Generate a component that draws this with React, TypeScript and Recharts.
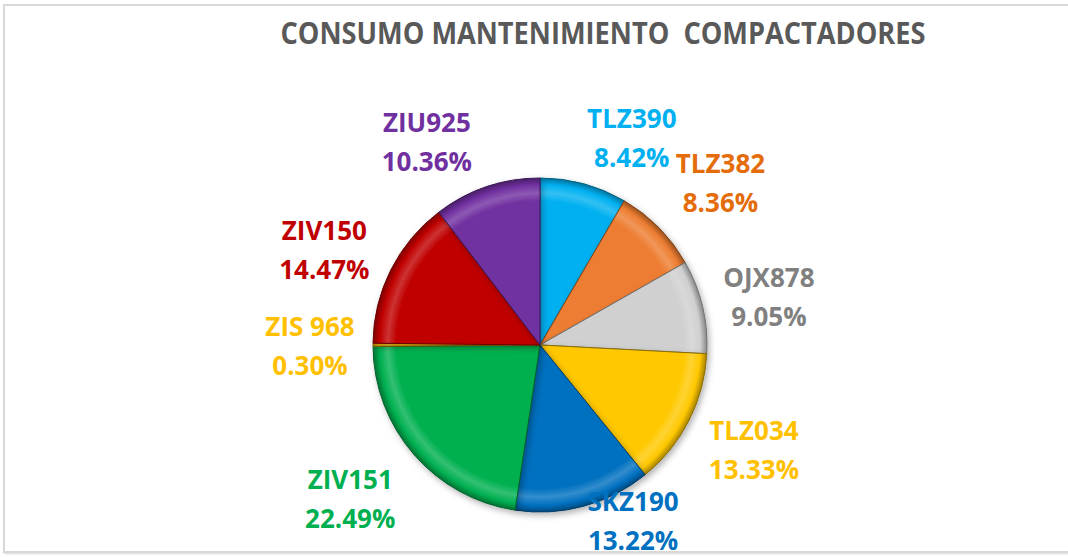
import React from "react";
import { PieChart, Pie, Cell } from "recharts";

const names = ["TLZ390", "TLZ382", "OJX878", "TLZ034", "SKZ190", "ZIV151", "ZIS 968", "ZIV150", "ZIU925"];
const values = [8.42, 8.36, 9.05, 13.33, 13.22, 22.49, 0.3, 14.47, 10.36];
const sliceColors = ["#00B0F0", "#ED7D31", "#D0D0D0", "#FFC800", "#0070C0", "#00B050", "#FFC000", "#C00000", "#7030A0"];
const labelColors = ["#00B0F0", "#E46C0A", "#808080", "#FFC000", "#0070C0", "#00B050", "#FFC000", "#C00000", "#7030A0"];

const data = names.map((name, i) => ({ name, value: values[i] }));

// label placement (polar tweaks relative to slice mid-angle)
const labelAngleShift = [8.7, 2.6, 1.3, -1, -12.8, 2, 0, -2.7, -10.4];
const labelRadius = [227, 243, 234, 238, 198, 244, 230, 236, 233];

const CX = 540;
const CY = 345;
const R = 167;

function shade(hex: string, f: number) {
  const n = parseInt(hex.slice(1), 16);
  let r = (n >> 16) & 255, g = (n >> 8) & 255, b = n & 255;
  if (f < 0) {
    r = Math.round(r * (1 + f)); g = Math.round(g * (1 + f)); b = Math.round(b * (1 + f));
  } else {
    r = Math.round(r + (255 - r) * f); g = Math.round(g + (255 - g) * f); b = Math.round(b + (255 - b) * f);
  }
  return `rgb(${r},${g},${b})`;
}

const renderLabel = (props: any) => {
  const { cx, cy, midAngle, index } = props;
  const theta = ((90 - midAngle + labelAngleShift[index]) * Math.PI) / 180;
  const r = labelRadius[index];
  const x = cx + r * Math.sin(theta);
  const y = cy - r * Math.cos(theta);
  return (
    <text
      x={x}
      y={y}
      textAnchor="middle"
      fill={labelColors[index]}
      style={{ fontFamily: "'Open Sans', sans-serif", fontWeight: 700, fontSize: 26 }}
    >
      <tspan x={x} dy={-9}>{names[index]}</tspan>
      <tspan x={x} dy={39}>{values[index].toFixed(2)}%</tspan>
    </text>
  );
};

export default function App() {
  return (
    <div style={{ position: "absolute", left: 0, top: 0, width: 1068, height: 557, background: "#fff", overflow: "hidden" }}>
      <div
        style={{
          position: "absolute",
          left: 3,
          top: 4,
          width: 1080,
          height: 545,
          border: "2px solid #D9D9D9",
          boxShadow: "1px 1px 2px rgba(0,0,0,0.15)",
        }}
      />
      <div style={{ position: "absolute", left: 0, top: 0 }}>
        <PieChart width={1068} height={557} margin={{ top: 0, right: 0, bottom: 0, left: 0 }}>
          <defs>
            {sliceColors.map((c, i) => (
              <radialGradient key={i} id={`g${i}`} cx={CX} cy={CY} r={R} gradientUnits="userSpaceOnUse">
                <stop offset="0%" stopColor={c} />
                <stop offset="86%" stopColor={c} />
                <stop offset="91%" stopColor={shade(c, 0.2)} />
                <stop offset="96%" stopColor={c} />
                <stop offset="100%" stopColor={shade(c, -0.35)} />
              </radialGradient>
            ))}
            <filter id="sh" x="-20%" y="-20%" width="140%" height="140%">
              <feDropShadow dx="2" dy="3" stdDeviation="3" floodColor="#000" floodOpacity="0.3" />
            </filter>
          </defs>
          <text
            x={603}
            y={44}
            textAnchor="middle"
            fill="#595959"
            textLength={645}
            lengthAdjust="spacingAndGlyphs"
            xmlSpace="preserve"
            style={{ fontFamily: "'Open Sans', sans-serif", fontWeight: 700, fontSize: 30, whiteSpace: "pre" }}
          >
            {"CONSUMO MANTENIMIENTO  COMPACTADORES"}
          </text>
          <Pie
            data={data}
            dataKey="value"
            nameKey="name"
            cx={CX}
            cy={CY}
            outerRadius={R}
            startAngle={90}
            endAngle={-270}
            isAnimationActive={false}
            label={renderLabel}
            labelLine={false}
            style={{ filter: "url(#sh)" }}
          >
            {data.map((d, i) => (
              <Cell key={d.name} fill={`url(#g${i})`} stroke={shade(sliceColors[i], -0.45)} strokeWidth={1} />
            ))}
          </Pie>
        </PieChart>
      </div>
    </div>
  );
}
